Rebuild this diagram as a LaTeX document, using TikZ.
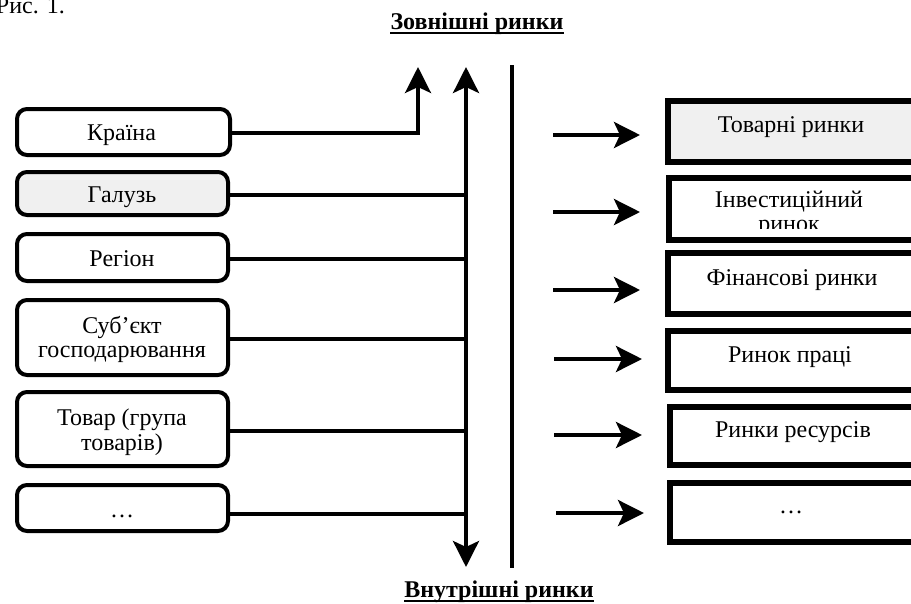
\documentclass[tikz,border=0pt]{standalone}
\usepackage{fontspec}
\setmainfont{Liberation Serif}
\usetikzlibrary{arrows.meta,calc}
\begin{document}
\begin{tikzpicture}[x=1pt,y=-1pt,
  lbox/.style={draw, line width=4pt, rounded corners=10pt, minimum width=211pt, inner sep=0pt},
  rbox/.style={draw, line width=6pt, minimum width=252pt, inner sep=0pt},
  txt/.style={font=\fontsize{24}{26}\selectfont, inner sep=0pt, anchor=base},
  ttl/.style={font=\fontsize{24}{26}\selectfont\bfseries, inner sep=0pt, anchor=base},
  conn/.style={line width=3.5pt},
  arr/.style={line width=4pt, -{Stealth[length=26pt,width=26pt,inset=6pt]}},
  darr/.style={line width=4pt, {Stealth[length=26pt,width=26pt,inset=6pt]}-{Stealth[length=26pt,width=26pt,inset=6pt]}},
  grayfill/.style={fill=black!6}
]
\useasboundingbox (0,0) rectangle (911,603);
\clip (0,0) rectangle (911,603);

% caption fragment
\node[txt, anchor=base east] (fig) at (65,13) {Рис. 1.};

% titles
\node[ttl] (top) at (477,29) {Зовнішні ринки};
\draw[line width=2.5pt] ([yshift=-4pt]top.base west) -- ([yshift=-4pt]top.base east);
\node[ttl] (bot) at (499,597) {Внутрішні ринки};
\draw[line width=2.5pt] ([yshift=-4pt]bot.base west) -- ([yshift=-4pt]bot.base east);

% left boxes
\node[lbox, minimum width=213pt, minimum height=46pt] (l1) at (123.5,132) {};
\node[lbox, grayfill, minimum height=43pt] (l2) at (122.5,193.5) {};
\node[lbox, minimum height=47pt] (l3) at (122.5,257.5) {};
\node[lbox, minimum height=75pt] (l4) at (122.5,337.5) {};
\node[lbox, minimum height=74pt] (l5) at (122.5,429) {};
\node[lbox, minimum height=46pt] (l6) at (122.5,508) {};

\node[txt] (t1) at (121.5,140) {Країна};
\node[txt] (t2) at (122,202) {Галузь};
\node[txt] (t3) at (122,266) {Регіон};
\node[txt] (t4a) at (122,333) {Суб’єкт};
\node[txt] (t4b) at (122,357) {господарювання};
\node[txt] (t5a) at (122,425) {Товар (група};
\node[txt] (t5b) at (122,450) {товарів)};
\node[txt] (t6) at (122,517) {…};

% vertical axis
\coordinate (vt) at (466,67);
\coordinate (vb) at (466,567);
\draw[darr] (vb) -- (vt);
\coordinate (st) at (512,65);
\coordinate (sb) at (512,568);
\draw[line width=4.5pt] (st) -- (sb);

% Країна arrow
\coordinate (kup) at (418,67);
\draw[conn, arr, line width=3.5pt] ([yshift=-1pt]l1.east) -| (kup);

% connectors to axis
\draw[conn] ([yshift=-1.5pt]l2.east) -- ([yshift=-1.5pt]l2.east -| vt);
\draw[conn] ([yshift=-1.5pt]l3.east) -- ([yshift=-1.5pt]l3.east -| vt);
\draw[conn] ([yshift=-1.5pt]l4.east) -- ([yshift=-1.5pt]l4.east -| vt);
\draw[conn] ([yshift=-2pt]l5.east) -- ([yshift=-2pt]l5.east -| vt);
\draw[conn] ([yshift=-6pt]l6.east) -- ([yshift=-6pt]l6.east -| vt);

% right boxes
\node[rbox, grayfill, minimum height=61pt] (r1) at (794,131.5) {};
\node[rbox, minimum height=62pt] (r2) at (795,209) {};
\node[rbox, minimum height=61pt] (r3) at (794,283.5) {};
\node[rbox, minimum height=59pt] (r4) at (794,360.5) {};
\node[rbox, minimum height=58pt] (r5) at (796,436) {};
\node[rbox, minimum height=59pt] (r6) at (796,512.5) {};

\node[txt] (u1) at (791,132) {Товарні ринки};
\node[txt] (u2a) at (789,207) {Інвестиційний};
\begin{scope}
  \clip (671,181) rectangle (914,228);
  \node[txt] (u2b) at (789,231) {ринок};
\end{scope}
\node[txt] (u3) at (792,285) {Фінансові ринки};
\node[txt] (u4) at (790,362) {Ринок праці};
\node[txt] (u5) at (793,437) {Ринки ресурсів};
\node[txt] (u6) at (791,513) {…};

% right arrows
\coordinate (a1) at (553,135); \coordinate (b1) at (640,135);
\coordinate (a2) at (553,212); \coordinate (b2) at (640,212);
\coordinate (a3) at (553,290); \coordinate (b3) at (640,290);
\coordinate (a4) at (554,359); \coordinate (b4) at (642,359);
\coordinate (a5) at (554,435); \coordinate (b5) at (642,435);
\coordinate (a6) at (556,513); \coordinate (b6) at (644,513);
\foreach \i in {1,...,6} \draw[arr] (a\i) -- (b\i);
\end{tikzpicture}
\end{document}
